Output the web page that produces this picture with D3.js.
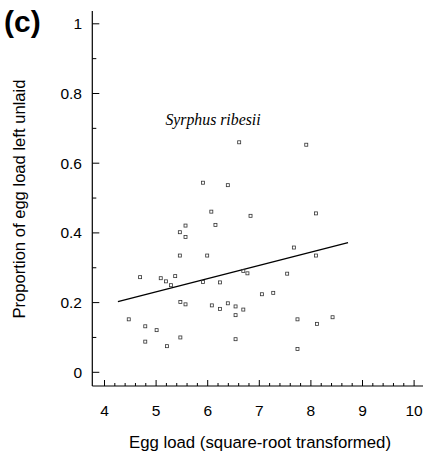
<!DOCTYPE html>
<html><head><meta charset="utf-8">
<script src="https://cdn.jsdelivr.net/npm/d3@7"></script>
<style>body{margin:0;background:#fff}svg{display:block}</style>
</head><body>
<script>
// Data (egg load sqrt-transformed, proportion left unlaid)
const eggLoad = [6.61,7.91,5.91,6.39,6.07,6.83,8.10,5.57,6.15,5.46,5.57,5.46,5.99,8.10,7.67,
  4.69,5.09,5.19,5.37,5.29,5.91,6.24,6.69,6.77,7.54,5.47,5.57,6.08,6.24,6.39,6.54,6.54,6.69,
  7.05,7.27,4.47,4.79,5.01,4.79,5.21,5.47,6.54,7.74,8.12,8.42,7.74];
const propUnlaid = [0.660,0.653,0.544,0.537,0.461,0.449,0.456,0.421,0.423,0.402,0.388,0.335,0.335,0.335,0.358,
  0.273,0.270,0.261,0.276,0.250,0.259,0.258,0.291,0.284,0.283,0.202,0.195,0.192,0.182,0.198,0.189,0.164,0.180,
  0.224,0.228,0.152,0.132,0.121,0.088,0.075,0.100,0.095,0.152,0.139,0.158,0.067];
const fitX = [4.26, 8.72];
const fitY = [0.203, 0.372];
const xTicks = [4,5,6,7,8,9,10];
const yTicks = [0,0.2,0.4,0.6,0.8,1];
const yTickLabels = ["0","0.2","0.4","0.6","0.8","1"];

const W = 425, H = 456;
const svg = d3.select("body").append("svg").attr("width", W).attr("height", H);
const x = d3.scaleLinear().domain([4,10]).range([104.5, 414.1]);
const y = d3.scaleLinear().domain([0,1]).range([372.3, 23.8]);
const axisX = 92.3, axisY = 386;
const sans = "Liberation Sans, Arial, sans-serif";

// axis lines
svg.append("line").attr("x1", axisX).attr("x2", axisX).attr("y1", 11).attr("y2", axisY)
  .attr("stroke", "#000").attr("stroke-width", 1.2);
svg.append("line").attr("x1", axisX).attr("x2", 423).attr("y1", axisY).attr("y2", axisY)
  .attr("stroke", "#000").attr("stroke-width", 1.2);

// y ticks
const yMinor = d3.range(0, 1.0001, 0.1);
svg.append("g").selectAll("line").data(yMinor).join("line")
  .attr("x1", axisX).attr("x2", (d,i) => axisX + (i % 2 === 0 ? 7 : 4))
  .attr("y1", d => y(d)).attr("y2", d => y(d)).attr("stroke", "#000").attr("stroke-width", 1);
svg.append("g").selectAll("text").data(yTicks).join("text")
  .attr("x", 82).attr("y", d => y(d)).attr("dy", "0.36em").attr("text-anchor", "end")
  .attr("font-family", sans).attr("font-size", 15.5).text((d,i) => yTickLabels[i]);

// x ticks
const xMinor = d3.range(4, 10.0001, 0.2);
svg.append("g").selectAll("line").data(xMinor).join("line")
  .attr("x1", d => x(d)).attr("x2", d => x(d))
  .attr("y1", axisY).attr("y2", (d,i) => axisY - (i % 5 === 0 ? 6 : 3))
  .attr("stroke", "#000").attr("stroke-width", 1);
svg.append("g").selectAll("text").data(xTicks).join("text")
  .attr("x", d => x(d)).attr("y", 416).attr("text-anchor", "middle")
  .attr("font-family", sans).attr("font-size", 15.5).text(d => d);

// axis titles
svg.append("text").attr("x", 260).attr("y", 448).attr("text-anchor", "middle")
  .attr("font-family", sans).attr("font-size", 16.8).text("Egg load (square-root transformed)");
svg.append("text").attr("transform", "translate(25,199) rotate(-90)").attr("text-anchor", "middle")
  .attr("font-family", sans).attr("font-size", 16.6).text("Proportion of egg load left unlaid");

// panel label
svg.append("text").attr("x", 4).attr("y", 32).attr("font-family", sans).attr("font-weight", "bold")
  .attr("font-size", 30).text("(c)");

// species title
svg.append("text").attr("x", 213).attr("y", 125).attr("text-anchor", "middle")
  .attr("font-family", "Liberation Serif, Times New Roman, serif").attr("font-style", "italic")
  .attr("font-size", 15.8).text("Syrphus ribesii");

// regression line
svg.append("line").attr("x1", x(fitX[0])).attr("y1", y(fitY[0])).attr("x2", x(fitX[1])).attr("y2", y(fitY[1]))
  .attr("stroke", "#000").attr("stroke-width", 1.3);

// points
const pts = eggLoad.map((v,i) => [v, propUnlaid[i]]);
svg.append("g").selectAll("rect").data(pts).join("rect")
  .attr("x", d => x(d[0]) - 1.5).attr("y", d => y(d[1]) - 1.5).attr("width", 3).attr("height", 3)
  .attr("fill", "none").attr("stroke", "#333").attr("stroke-width", 0.8);
</script>
</body></html>
